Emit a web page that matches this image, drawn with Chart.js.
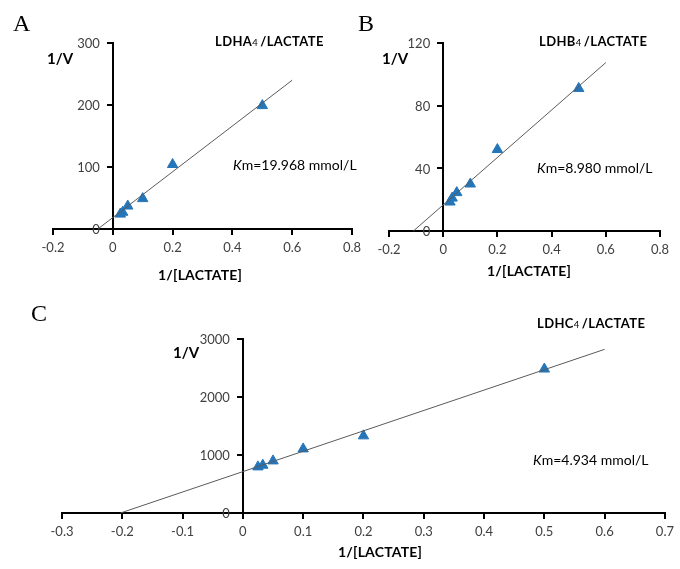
<!DOCTYPE html>
<html>
<head>
<meta charset="utf-8">
<script src="https://cdn.jsdelivr.net/npm/chart.js@4/dist/chart.umd.min.js"></script>
<style>
  html, body { margin:0; padding:0; background:#fff; }
  #wrap { position:relative; width:680px; height:569px; overflow:hidden; background:#fff; }
  canvas { position:absolute; left:0; top:0; }
  .t { position:absolute; white-space:nowrap; line-height:normal; color:#000; font-family: Lato, "Open Sans", sans-serif; }
</style>
</head>
<body>
<div id="wrap">
  <canvas id="cA" width="680" height="569"></canvas>
  <canvas id="cB" width="680" height="569"></canvas>
  <canvas id="cC" width="680" height="569"></canvas>
</div>
<script>
// ---------------- data ----------------
const substrateInv = [0.025, 0.033, 0.05, 0.1, 0.2, 0.5];   // 1/[LACTATE]

const invVelocityA = [24, 27, 37, 49, 104, 199];
const invVelocityB = [18.5, 21, 24.5, 30, 52, 91];
const invVelocityC = [795, 824, 898, 1105, 1330, 2482];

// fitted Lineweaver-Burk lines (endpoints)
const fitXA = [-0.05, 0.6];   const fitYA = [0, 240];
const fitXB = [-0.11, 0.6];   const fitYB = [0, 107.5];
const fitXC = [-0.203, 0.6];  const fitYC = [0, 2822];

const xTicksAB = [-0.2, 0, 0.2, 0.4, 0.6, 0.8];
const xTicksC  = [-0.3, -0.2, -0.1, 0, 0.1, 0.2, 0.3, 0.4, 0.5, 0.6, 0.7];
const yTicksA  = [0, 100, 200, 300];
const yTicksB  = [0, 40, 80, 120];
const yTicksC  = [0, 1000, 2000, 3000];

const panelLabels = ['A', 'B', 'C'];
const titles = ['LDHA', 'LDHB', 'LDHC'];
const kmTexts = ['19.968', '8.980', '4.934'];

// ---------------- drawing ----------------
const W = 680, H = 569;
const MARK = '#2576b9';
const TICK_FONT = {family: 'Lato', size: 13};
const TICK_COLOR = '#404040';

function pairs(xs, ys) { return xs.map((x, i) => ({x: x, y: ys[i]})); }

function axis(ticksArr, pos, showLabels) {
  return {
    type: 'linear',
    min: ticksArr[0],
    max: ticksArr[ticksArr.length - 1],
    position: pos,
    afterBuildTicks: s => { s.ticks = ticksArr.map(v => ({value: v})); },
    ticks: {
      display: showLabels,
      autoSkip: false, maxRotation: 0, padding: 6,
      color: TICK_COLOR,
      font: TICK_FONT,
      callback: v => String(v)
    },
    grid: {drawOnChartArea: false, drawTicks: true, tickLength: 5, color: '#000', lineWidth: 2},
    border: {display: true, color: '#000', width: 2}
  };
}

// y tick labels drawn left of the crossing axis (Chart.js puts them on the axis line otherwise)
const yLabelPlugin = {
  id: 'yLabels',
  afterDraw(chart) {
    const ys = chart.scales.y, xs = chart.scales.x;
    const ax = xs.getPixelForValue(0);
    const ctx = chart.ctx;
    ctx.save();
    ctx.font = TICK_FONT.size + 'px ' + TICK_FONT.family;
    ctx.fillStyle = TICK_COLOR;
    ctx.textAlign = 'right';
    ctx.textBaseline = 'middle';
    ys.ticks.forEach(t => {
      ctx.fillText(String(t.value), ax - 13, ys.getPixelForValue(t.value) + 1);
    });
    ctx.restore();
  }
};

function makeChart(id, area, xt, yt, xs, ys, fx, fy) {
  new Chart(document.getElementById(id), {
    type: 'scatter',
    data: {
      datasets: [
        {type: 'line', data: pairs(fx, fy), borderColor: '#5a5a5a', borderWidth: 1,
         pointRadius: 0, fill: false, order: 0, clip: false},
        {data: pairs(xs, ys), pointStyle: 'triangle', pointRadius: 6,
         backgroundColor: MARK, borderColor: MARK, borderWidth: 1, order: 1, clip: false}
      ]
    },
    options: {
      responsive: false, animation: false, events: [],
      layout: {padding: {left: area.l, top: area.t, right: W - area.r, bottom: H - area.b}},
      plugins: {legend: {display: false}, tooltip: {enabled: false}},
      scales: {
        x: axis(xt, {y: 0}, true),
        y: axis(yt, {x: 0}, false)
      }
    },
    plugins: [yLabelPlugin]
  });
}

makeChart('cA', {l: 53, r: 352, t: 43, b: 229}, xTicksAB, yTicksA, substrateInv, invVelocityA, fitXA, fitYA);
makeChart('cB', {l: 389, r: 660, t: 43, b: 231}, xTicksAB, yTicksB, substrateInv, invVelocityB, fitXB, fitYB);
makeChart('cC', {l: 62, r: 673, t: 339, b: 513}, xTicksC, yTicksC, substrateInv, invVelocityC, fitXC, fitYC);

// ---------------- texts ----------------
const wrap = document.getElementById('wrap');
function text(html, left, capTop, size, opts) {
  opts = opts || {};
  const d = document.createElement('div');
  d.className = 't';
  d.innerHTML = html;
  const k = opts.serif ? 0.229 : 0.27;
  d.style.left = left + 'px';
  d.style.top = (capTop - k * size) + 'px';
  d.style.fontSize = size + 'px';
  if (opts.serif) d.style.fontFamily = '"Liberation Serif", "Times New Roman", serif';
  if (opts.bold) d.style.fontWeight = 'bold';
  if (opts.ls) d.style.letterSpacing = opts.ls + 'px';
  wrap.appendChild(d);
}

// panel letters
text(panelLabels[0], 13, 15, 24, {serif: true});
text(panelLabels[1], 358, 15, 24, {serif: true});
text(panelLabels[2], 31, 305, 24, {serif: true});

// y axis titles
text('1/V', 47, 53, 15, {bold: true});
text('1/V', 382, 53, 15, {bold: true});
text('1/V', 173, 347, 15, {bold: true});

// panel titles
function title(name) { return name + '<span style="font-size:9.5px;font-weight:normal">4</span>&#8201;/LACTATE'; }
text(title(titles[0]), 215, 37, 13, {bold: true, ls: 0.4});
text(title(titles[1]), 539, 37, 13, {bold: true, ls: 0.4});
text(title(titles[2]), 537, 319, 13, {bold: true, ls: 0.4});

// Km annotations
function km(v) { return '<i>K</i>m=' + v + ' mmol/L'; }
text(km(kmTexts[0]), 233, 160, 14);
text(km(kmTexts[1]), 537, 163, 14);
text(km(kmTexts[2]), 533, 455, 14);

// x axis titles
text('1/[LACTATE]', 158, 270, 14, {bold: true, ls: 0.2});
text('1/[LACTATE]', 487, 266, 14, {bold: true, ls: 0.2});
text('1/[LACTATE]', 338, 547, 14, {bold: true, ls: 0.2});
</script>
</body>
</html>
